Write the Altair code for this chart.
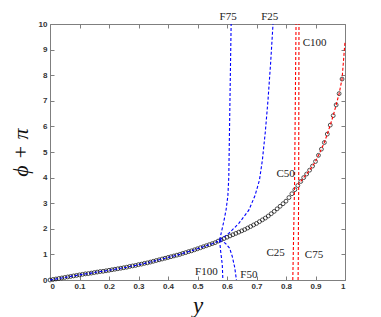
import altair as alt
import pandas as pd

# main curve phi+pi versus y (markers at y = 0.00 ... 0.99)
curve_x = [round(i * 0.01, 2) for i in range(100)]
curve_y = [0.00, 0.02, 0.04, 0.06, 0.08, 0.10, 0.12, 0.14, 0.16, 0.18,
           0.20, 0.22, 0.24, 0.25, 0.27, 0.29, 0.31, 0.33, 0.34, 0.36,
           0.38, 0.40, 0.42, 0.44, 0.46, 0.48, 0.50, 0.53, 0.55, 0.57,
           0.60, 0.62, 0.65, 0.67, 0.70, 0.73, 0.76, 0.79, 0.82, 0.85,
           0.88, 0.91, 0.94, 0.97, 1.00, 1.04, 1.07, 1.11, 1.14, 1.18,
           1.22, 1.26, 1.30, 1.34, 1.38, 1.42, 1.46, 1.52, 1.57, 1.62,
           1.67, 1.72, 1.77, 1.82, 1.87, 1.92, 1.97, 2.03, 2.09, 2.15,
           2.21, 2.28, 2.35, 2.42, 2.50, 2.59, 2.68, 2.78, 2.88, 2.98,
           3.08, 3.22, 3.37, 3.53, 3.69, 3.85, 4.00, 4.14, 4.29, 4.45,
           4.63, 4.87, 5.11, 5.37, 5.70, 6.05, 6.42, 6.84, 7.28, 7.85]
end_x = [1.0]
end_y = [9.3]

# blue branches (F)
f75_x = [0.575, 0.589, 0.597, 0.603, 0.606, 0.608, 0.610, 0.614]
f75_y = [1.56, 2.28, 2.75, 3.30, 4.00, 5.50, 7.00, 10.0]
f25_x = [0.575, 0.606, 0.640, 0.674, 0.695, 0.710, 0.720, 0.730, 0.739, 0.748, 0.756]
f25_y = [1.56, 1.82, 2.21, 2.73, 3.30, 3.90, 4.69, 5.80, 7.03, 8.50, 10.0]
f100_x = [0.575, 0.578, 0.580, 0.584, 0.586]
f100_y = [1.56, 1.17, 0.98, 0.60, 0.00]
f50_x = [0.575, 0.595, 0.609, 0.618, 0.626, 0.632]
f50_y = [1.56, 1.43, 1.24, 0.91, 0.50, 0.00]

# red branches (C)
ca_x = [0.823, 0.829, 0.834]
ca_y = [0.0, 3.7, 10.0]
cb_x = [0.841, 0.843, 0.844]
cb_y = [0.0, 3.7, 10.0]

label_text = ["F75", "F25", "C100", "C50", "C25", "C75", "F100", "F50"]
label_x = [0.604, 0.745, 0.897, 0.799, 0.765, 0.895, 0.530, 0.674]
label_y = [10.29, 10.29, 9.26, 4.14, 1.07, 0.98, 0.33, 0.20]

x_ticks = [i / 10 for i in range(11)]
y_ticks = list(range(11))

# ---- tables ----
markers = pd.DataFrame({"x": curve_x, "y": curve_y})

blue_rows = []
for xx, yy in zip(curve_x, curve_y):
    if xx <= 0.575:
        blue_rows.append(("main", xx, yy))
for name, xs_, ys_ in [("F75", f75_x, f75_y), ("F25", f25_x, f25_y),
                       ("F100", f100_x, f100_y), ("F50", f50_x, f50_y)]:
    for xx, yy in zip(xs_, ys_):
        blue_rows.append((name, xx, yy))
blue = pd.DataFrame(blue_rows, columns=["s", "x", "y"])
blue["o"] = range(len(blue))

red_rows = []
for xx, yy in zip(curve_x + end_x, curve_y + end_y):
    if xx >= 0.85:
        red_rows.append(("main", xx, yy))
for name, xs_, ys_ in [("A", ca_x, ca_y), ("B", cb_x, cb_y)]:
    for xx, yy in zip(xs_, ys_):
        red_rows.append((name, xx, yy))
red = pd.DataFrame(red_rows, columns=["s", "x", "y"])
red["o"] = range(len(red))

labels = pd.DataFrame({"t": label_text, "x": label_x, "y": label_y})

W, H = 295, 256
xs = alt.Scale(domain=[0, 1], nice=False, zero=False)
ys = alt.Scale(domain=[0, 10], nice=False)

lab_style = dict(labelFont="Liberation Sans", labelFontSize=8, labelFontWeight="bold",
                 labelColor="#333333", grid=False, domain=False)

x_main = alt.Axis(values=x_ticks, format="~g", ticks=False, labelPadding=2,
                  title="y", titleFont="Liberation Serif", titleFontStyle="italic",
                  titleFontSize=23, titleFontWeight="normal", titleColor="#111",
                  titlePadding=4, **lab_style)
y_main = alt.Axis(values=y_ticks, ticks=False, labelPadding=3,
                  title="ϕ + π", titleFont="Liberation Serif", titleFontStyle="italic",
                  titleFontSize=22, titleFontWeight="normal", titleColor="#111",
                  titlePadding=6, **lab_style)

tick_style = dict(labels=False, domain=False, grid=False, ticks=True, tickSize=4,
                  tickColor="#7f7f7f", title=None)
x_in_bottom = alt.Axis(values=x_ticks, orient="top", offset=-H, **tick_style)
y_in_left = alt.Axis(values=y_ticks, orient="right", offset=-W, **tick_style)
x_in_top = alt.Axis(values=x_ticks, orient="bottom", offset=-H, **tick_style)
y_in_right = alt.Axis(values=y_ticks, orient="left", offset=-W, **tick_style)

pts = alt.Chart(markers).mark_point(shape="circle", filled=False, size=15,
                                    strokeWidth=1.0, color="black").encode(
    x=alt.X("x:Q", scale=xs, axis=x_main),
    y=alt.Y("y:Q", scale=ys, axis=y_main),
)

blue_lines = alt.Chart(blue).mark_line(color="#0000ff", strokeWidth=1.1,
                                       strokeDash=[3, 2]).encode(
    x=alt.X("x:Q", scale=xs, axis=x_in_bottom),
    y=alt.Y("y:Q", scale=ys, axis=y_in_left),
    detail="s:N",
    order="o:Q",
)

red_lines = alt.Chart(red).mark_line(color="#ff0000", strokeWidth=1.1,
                                     strokeDash=[3, 2]).encode(
    x=alt.X("x:Q", scale=xs, axis=x_in_top),
    y=alt.Y("y:Q", scale=ys, axis=y_in_right),
    detail="s:N",
    order="o:Q",
)

texts = alt.Chart(labels).mark_text(font="Liberation Serif", fontSize=11,
                                    color="#222222").encode(
    x=alt.X("x:Q", scale=xs, axis=None),
    y=alt.Y("y:Q", scale=ys, axis=None),
    text="t:N",
)

chart = alt.layer(pts, blue_lines, red_lines, texts).resolve_axis(
    x="independent", y="independent"
).properties(
    width=W, height=H, autosize="none",
    padding={"left": 42, "top": 16, "right": 20, "bottom": 40},
    background="white",
).configure_view(stroke="#7f7f7f", strokeWidth=1)

chart.save("out.html", embed_options={"renderer": "svg", "actions": False})
